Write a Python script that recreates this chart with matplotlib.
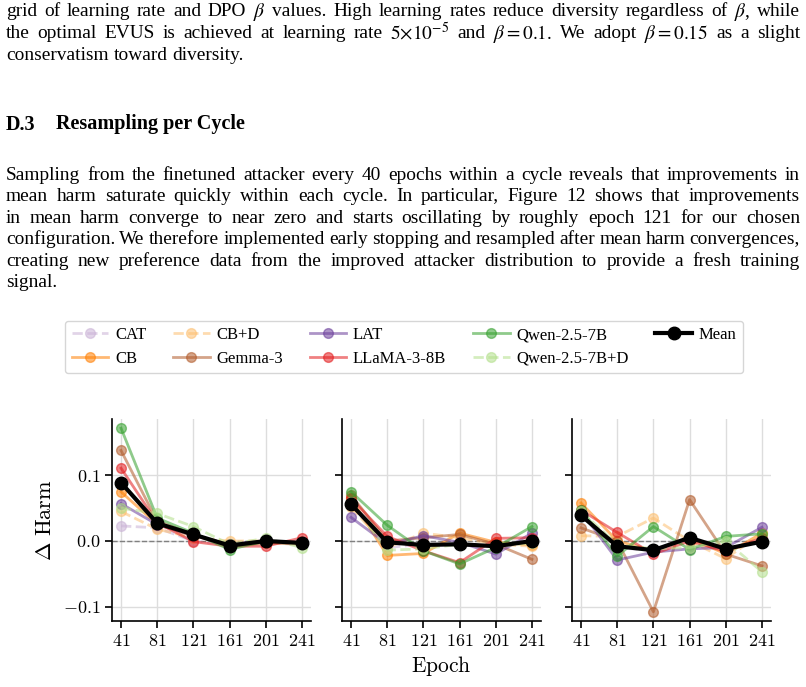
import matplotlib
matplotlib.use('Agg')
import numpy as np
import matplotlib.pyplot as plt
from matplotlib.lines import Line2D

plt.rcParams['font.family'] = 'serif'
plt.rcParams['font.serif'] = ['Liberation Serif', 'DejaVu Serif']
plt.rcParams['mathtext.fontset'] = 'cm'

W, H = 806, 687

epochs = [41, 81, 121, 161, 201, 241]

# delta harm per method, one list per panel (cycle)
cat    = [[0.023, 0.020, 0.000, -0.005, 0.000, -0.005],
          [0.055, -0.010, -0.005, -0.005, -0.008, 0.000],
          [0.040, -0.010, -0.015, 0.003, -0.012, 0.000]]
cb     = [[0.075, 0.025, 0.008, -0.005, -0.002, -0.003],
          [0.065, -0.022, -0.019, 0.012, -0.002, -0.006],
          [0.058, 0.000, -0.015, 0.005, -0.020, 0.012]]
cb_d   = [[0.045, 0.018, 0.005, 0.000, 0.000, -0.005],
          [0.052, -0.010, 0.012, 0.005, -0.005, -0.008],
          [0.008, 0.007, 0.035, 0.000, -0.027, 0.012]]
gemma  = [[0.138, 0.030, 0.010, -0.008, -0.003, -0.005],
          [0.070, 0.000, 0.005, 0.010, -0.005, -0.028],
          [0.020, 0.000, -0.108, 0.063, -0.020, -0.038]]
lat    = [[0.057, 0.025, 0.008, -0.005, 0.000, -0.003],
          [0.036, -0.005, 0.008, -0.002, -0.020, 0.012],
          [0.045, -0.029, -0.017, -0.012, -0.010, 0.021]]
llama  = [[0.111, 0.028, -0.001, -0.008, -0.008, 0.005],
          [0.065, 0.007, -0.015, -0.033, 0.004, 0.005],
          [0.047, 0.013, -0.020, 0.000, -0.016, 0.005]]
qwen   = [[0.172, 0.035, 0.012, -0.013, 0.000, -0.003],
          [0.075, 0.024, -0.015, -0.035, -0.010, 0.022],
          [0.048, -0.023, 0.022, -0.013, 0.007, 0.011]]
qwen_d = [[0.050, 0.042, 0.022, -0.005, 0.004, -0.010],
          [0.060, -0.014, -0.012, -0.005, -0.008, -0.003],
          [0.045, -0.005, -0.012, -0.010, 0.000, -0.047]]
mean   = [[0.089, 0.027, 0.010, -0.007, 0.000, -0.003],
          [0.056, -0.002, -0.006, -0.005, -0.008, 0.000],
          [0.039, -0.008, -0.014, 0.005, -0.012, -0.001]]

names  = ['CAT', 'CB', 'CB+D', 'Gemma-3', 'LAT', 'LLaMA-3-8B', 'Qwen-2.5-7B', 'Qwen-2.5-7B+D']
series = [cat, cb, cb_d, gemma, lat, llama, qwen, qwen_d]
colors = ['#cab2d6', '#ff7f00', '#fdbf6f', '#b15928', '#6a3d9a', '#e31a1c', '#33a02c', '#b2df8a']
dashed = [True, False, True, False, False, False, False, True]

para1 = ["grid of learning rate and DPO $\\beta$ values. High learning rates reduce diversity regardless of $\\beta$, while",
         "the optimal EVUS is achieved at learning rate $5{\\times}10^{-5}$ and $\\beta=0.1$. We adopt $\\beta=0.15$ as a slight",
         "conservatism toward diversity."]
para2 = ["Sampling from the finetuned attacker every 40 epochs within a cycle reveals that improvements in",
         "mean harm saturate quickly within each cycle.  In particular, Figure 12 shows that improvements",
         "in mean harm converge to near zero and starts oscillating by roughly epoch 121 for our chosen",
         "configuration. We therefore implemented early stopping and resampled after mean harm convergences,",
         "creating new preference data from the improved attacker distribution to provide a fresh training",
         "signal."]

fig = plt.figure(figsize=(W / 100, H / 100), dpi=100)
renderer = fig.canvas.get_renderer()
X0, X1 = 6, 800


def word_widths(words, size):
    objs = [fig.text(0, 0, w, fontsize=size, math_fontfamily='stix') for w in words]
    ws = [o.get_window_extent(renderer).width for o in objs]
    for o in objs:
        o.remove()
    return ws


# pick a body size so that the tightest justified line just fits
base = 10.0
need = 0
for line in para1[:-1] + para2[:-1]:
    ws = word_widths(line.split(), base)
    need = max(need, (sum(ws) + 0.22 * base * 100 / 72 * (len(ws) - 1)) / (X1 - X0))
BODY = base / need


def put_line(text, y_px, size=BODY, justify=True):
    words = text.split()
    objs = [fig.text(0, 1 - y_px / H, w, fontsize=size, va='center_baseline',
                     math_fontfamily='stix') for w in words]
    widths = [o.get_window_extent(renderer).width for o in objs]
    if justify and len(words) > 1:
        gap = (X1 - X0 - sum(widths)) / (len(words) - 1)
    else:
        gap = 0.25 * size * 100 / 72
    x = X0
    for o, w in zip(objs, widths):
        o.set_x(x / W)
        x += w + gap


for i, line in enumerate(para1):
    put_line(line, 9 + 22 * i, justify=i < len(para1) - 1)

fig.text(6 / W, 1 - 122 / H, 'D.3', fontsize=14.5, fontweight='bold', va='center_baseline')
fig.text(56 / W, 1 - 122 / H, 'Resampling per Cycle', fontsize=14.5, fontweight='bold',
         va='center_baseline')

for i, line in enumerate(para2):
    put_line(line, 173 + 21.5 * i, justify=i < len(para2) - 1)

# three panels, one per cycle
lefts = [112, 342, 572]
axes = []
for k, lx in enumerate(lefts):
    ax = fig.add_axes([lx / W, 1 - 621 / H, 199 / W, 202 / H],
                      sharey=axes[0] if axes else None)
    axes.append(ax)
    ax.axhline(0, color='gray', ls='--', lw=1, zorder=1)
    for vals, c, d in zip(series, colors, dashed):
        ax.plot(epochs, vals[k], color=c, ls='--' if d else '-', lw=2, marker='o',
                ms=7, alpha=0.55, zorder=2)
    ax.plot(epochs, mean[k], color='black', lw=3, marker='o', ms=9, zorder=3)
    ax.grid(True, color='#dddddd', lw=1)
    ax.set_axisbelow(True)
    for s in ['top', 'right']:
        ax.spines[s].set_visible(False)
    ax.spines['left'].set_linewidth(1.2)
    ax.spines['bottom'].set_linewidth(1.2)
    ax.set_xticks(epochs)
    ax.set_xticklabels(['$%d$' % e for e in epochs], fontsize=13)
    ax.set_yticks([-0.1, 0.0, 0.1])
    if k == 0:
        ax.set_yticklabels(['$-0.1$', '$0.0$', '$0.1$'], fontsize=13)
        ax.set_ylabel('$\\Delta\\ \\mathrm{Harm}$', fontsize=16, labelpad=5)
    else:
        ax.tick_params(labelleft=False)
    ax.tick_params(length=5, width=1.2)

axes[1].set_xlabel('$\\mathrm{Epoch}$', fontsize=15.5, labelpad=3)

handles = []
for n, c, d in zip(names, colors, dashed):
    handles.append(Line2D([], [], color=c, ls='--' if d else '-', lw=2, marker='o',
                          ms=7, alpha=0.55, label=n))
handles.append(Line2D([], [], color='black', lw=3, marker='o', ms=9, label='Mean'))
fig.legend(handles=handles, ncol=5, loc='center', bbox_to_anchor=(404 / W, 1 - 347 / H),
           fontsize=12, frameon=True, edgecolor='#cccccc', fancybox=True,
           handlelength=2.2, columnspacing=1.6, handletextpad=0.4, labelspacing=0.45)

fig.savefig('out.png', dpi=100)
